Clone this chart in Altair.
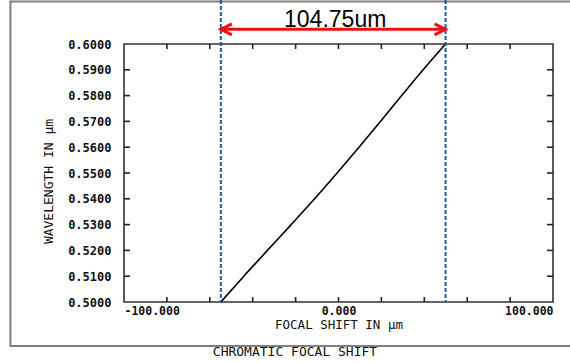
import altair as alt
import pandas as pd

# ---- data ----
wavelength = [0.50, 0.51, 0.52, 0.53, 0.54, 0.55, 0.56, 0.57, 0.58, 0.59, 0.60]
focal_shift = [-54.85, -44.15, -33.15, -22.05, -11.15, -0.65, 9.55, 19.55, 29.45, 39.45, 49.90]
span_edges = [-54.85, 49.90]
span_label = "104.75um"
x_label_values = [-100, -80, -60, -40, -20, 0, 20, 40, 60, 80, 100]
x_minor_ticks = [-80, -60, -40, -20, 0, 20, 40, 60, 80]
y_label_values = [0.50, 0.51, 0.52, 0.53, 0.54, 0.55, 0.56, 0.57, 0.58, 0.59, 0.60]
y_minor_ticks = [0.51, 0.52, 0.53, 0.54, 0.55, 0.56, 0.57, 0.58, 0.59]
x_title = "FOCAL SHIFT IN μm"
y_title = "WAVELENGTH IN μm"
chart_title = ["CHROMATIC FOCAL SHIFT"]

W, H = 429, 258
MONO = "DejaVu Sans Mono"

xs = alt.Scale(domain=[-100, 100], nice=False, zero=False)
ys = alt.Scale(domain=[0.5, 0.6], nice=False, zero=False)

curve_df = pd.DataFrame({"shift": focal_shift, "wl": wavelength})
xt_df = pd.DataFrame({"t": x_minor_ticks})
yt_df = pd.DataFrame({"t": y_minor_ticks})
span_df = pd.DataFrame({"x": span_edges})
arrow_df = pd.DataFrame({"x1": [span_edges[0]], "x2": [span_edges[1]], "label": [span_label]})
title_df = pd.DataFrame({"t": chart_title})
frame_df = pd.DataFrame({"k": [0]})

x_axis = alt.Axis(
    values=x_label_values, grid=False, domain=False, ticks=False, tickSize=0,
    labelExpr="(datum.value == 0 || abs(datum.value) == 100) ? ((datum.value < 0 ? '-' : '') + format(abs(datum.value), '.3f')) : ''",
    labelFlush=True, labelPadding=3, labelFont=MONO, labelFontSize=11.5, labelFontWeight="bold",
    labelColor="#111", title=x_title, titleFont=MONO, titleFontSize=12.5, titleFontWeight="normal",
    titleColor="#111", titleX=W / 2, titleY=22, titleBaseline="middle", titleAlign="center",
)
y_axis = alt.Axis(
    values=y_label_values, grid=False, domain=False, ticks=False, tickSize=0, format=".4f",
    labelPadding=13, labelFont=MONO, labelFontSize=12, labelFontWeight="bold", labelColor="#111",
    title=y_title, titleFont=MONO, titleFontSize=13, titleFontWeight="normal", titleColor="#111",
    titleX=-76, titleY=137, titleAngle=-90, titleBaseline="middle", titleAlign="center",
)

curve = alt.Chart(curve_df).mark_line(color="black", strokeWidth=1.6, interpolate="monotone").encode(
    x=alt.X("shift:Q", scale=xs, axis=x_axis),
    y=alt.Y("wl:Q", scale=ys, axis=y_axis),
    order="wl:Q",
)

tick_color = "#222"
xt_bottom = alt.Chart(xt_df).mark_rule(color=tick_color, strokeWidth=1.6).encode(
    x=alt.X("t:Q", scale=xs, axis=x_axis), y=alt.value(H), y2=alt.value(H - 5))
xt_top = alt.Chart(xt_df).mark_rule(color=tick_color, strokeWidth=1.6).encode(
    x=alt.X("t:Q", scale=xs, axis=x_axis), y=alt.value(0), y2=alt.value(5))
yt_left = alt.Chart(yt_df).mark_rule(color=tick_color, strokeWidth=1.6).encode(
    y=alt.Y("t:Q", scale=ys, axis=y_axis), x=alt.value(0), x2=alt.value(6))
yt_right = alt.Chart(yt_df).mark_rule(color=tick_color, strokeWidth=1.6).encode(
    y=alt.Y("t:Q", scale=ys, axis=y_axis), x=alt.value(W), x2=alt.value(W - 6))

span_lines = alt.Chart(span_df).mark_rule(color="#2155a8", strokeWidth=2, strokeDash=[4, 2]).encode(
    x=alt.X("x:Q", scale=xs, axis=x_axis), y=alt.value(-44), y2=alt.value(H))

arrow_y = -14.7
arrow_line = alt.Chart(arrow_df).mark_rule(color="#ee1111", strokeWidth=3).encode(
    x=alt.X("x1:Q", scale=xs, axis=x_axis), x2="x2:Q", y=alt.value(arrow_y))
head_left = alt.Chart(arrow_df).mark_point(
    shape="M1,-0.5L0,0L1,0.5", filled=False, color="#ee1111", strokeWidth=3, size=484, opacity=1
).encode(x=alt.X("x1:Q", scale=xs, axis=x_axis), y=alt.value(arrow_y))
head_right = alt.Chart(arrow_df).mark_point(
    shape="M-1,-0.5L0,0L-1,0.5", filled=False, color="#ee1111", strokeWidth=3, size=484, opacity=1
).encode(x=alt.X("x2:Q", scale=xs, axis=x_axis), y=alt.value(arrow_y))
arrow_text = alt.Chart(arrow_df).transform_calculate(
    mid="(datum.x1 + datum.x2) / 2"
).mark_text(font="Liberation Sans", fontSize=23, baseline="alphabetic", align="center", color="black", dx=2).encode(
    x=alt.X("mid:Q", scale=xs, axis=x_axis), y=alt.value(-17.3), text="label:N")

outer = alt.Chart(frame_df).mark_rect(filled=False, stroke="#808080", strokeWidth=2).encode(
    x=alt.value(-113.6), x2=alt.value(470), y=alt.value(-42.5), y2=alt.value(302))

bottom_title = alt.Chart(title_df).mark_text(
    font=MONO, fontSize=13, color="#111", baseline="middle", align="center"
).encode(x=alt.value(171), y=alt.value(308), text="t:N")

chart = alt.layer(
    curve, outer, span_lines, xt_bottom, xt_top, yt_left, yt_right,
    arrow_line, head_left, head_right, arrow_text, bottom_title,
).properties(
    width=W, height=H,
    padding={"left": 124, "top": 44, "right": 17, "bottom": 60},
    autosize=alt.AutoSizeParams(type="none"),
    background="white",
).configure_view(stroke="#333", strokeWidth=1.6)

chart.save("out.html", embed_options={"renderer": "svg", "actions": False})
